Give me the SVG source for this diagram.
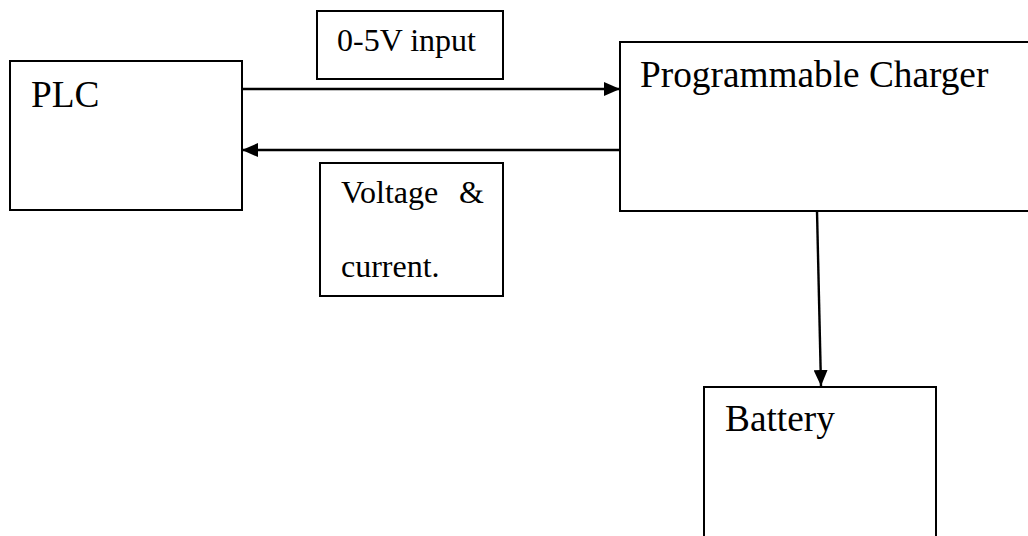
<svg xmlns="http://www.w3.org/2000/svg" width="1028" height="536" viewBox="0 0 1028 536">
<style>
.box{fill:#fff;stroke:#000;stroke-width:2}
.t{font-family:"Liberation Serif","Times New Roman",serif;fill:#000}
.big{font-size:37.3px}
.small{font-size:32px}
.line{stroke:#000;stroke-width:2.4;fill:none}
</style>
<defs>
<marker id="ah" viewBox="0 0 16 14" refX="16" refY="7" markerWidth="16" markerHeight="14" markerUnits="userSpaceOnUse" orient="auto">
<polygon points="0,0 16,7 0,14" fill="#000"/>
</marker>
</defs>
<rect width="1028" height="536" fill="#fff"/>
<g id="plc">
<rect class="box" x="10" y="61" width="232" height="149"/>
<text class="t big" x="31" y="107">PLC</text>
</g>
<g id="label-input">
<rect class="box" x="317" y="11" width="186" height="68"/>
<text class="t small" x="337" y="51">0-5V input</text>
</g>
<g id="charger">
<rect class="box" x="620" y="42" width="420" height="169"/>
<text class="t big" x="640" y="87">Programmable Charger</text>
</g>
<g id="label-feedback">
<rect class="box" x="320" y="163" width="183" height="133"/>
<text class="t small" x="341" y="203">Voltage</text>
<text class="t small" x="459" y="203">&amp;</text>
<text class="t small" x="341" y="277">current.</text>
</g>
<g id="battery">
<rect class="box" x="704" y="387" width="232" height="170"/>
<text class="t big" x="725" y="431">Battery</text>
</g>
<g id="connectors">
<line class="line" x1="242" y1="89" x2="620" y2="89" marker-end="url(#ah)"/>
<line class="line" x1="620" y1="150" x2="242" y2="150" marker-end="url(#ah)"/>
<line class="line" x1="817" y1="211" x2="821" y2="386" marker-end="url(#ah)"/>
</g>
</svg>
